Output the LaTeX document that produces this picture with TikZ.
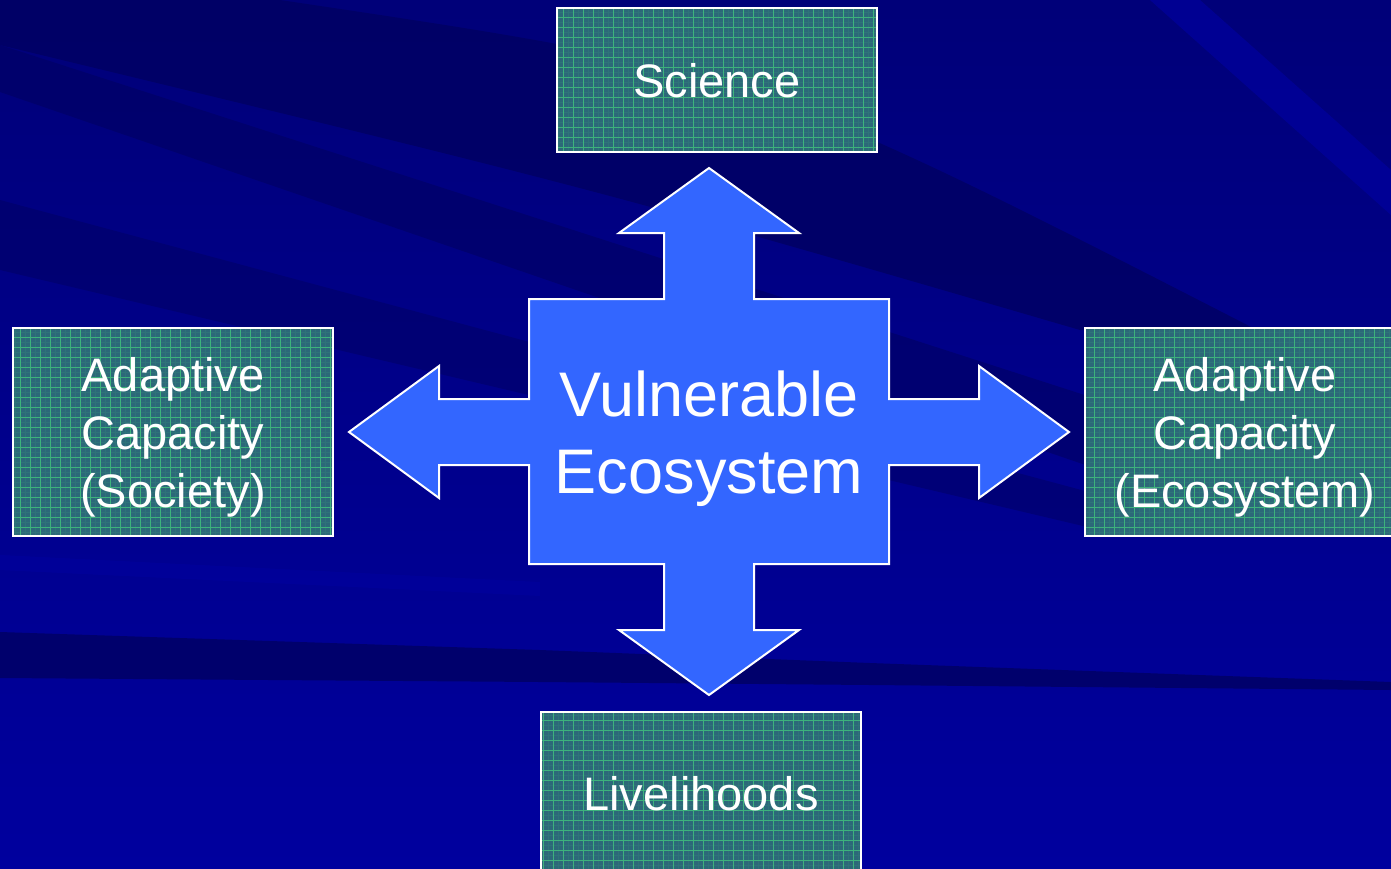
\documentclass[tikz,border=0pt]{standalone}
\usepackage{fontspec}
\setmainfont{Liberation Sans}

\definecolor{bgblue}{HTML}{00008E}
\definecolor{bgdeep}{HTML}{000062}
\definecolor{bglight}{HTML}{00009E}
\definecolor{crossblue}{HTML}{3366FF}
\definecolor{panelteal}{HTML}{2C6879}
\definecolor{panelgrid}{HTML}{3DB27C}

\tikzset{
  panel/.style={draw=white, line width=2pt, fill=panelteal, text=white,
    minimum width=320pt, align=center, inner sep=0pt, text depth=0pt,
    font=\fontsize{47}{58}\selectfont,
    path picture={
      \draw[panelgrid, line width=0.4pt, opacity=0.15]
        (path picture bounding box.south west) grid[step=5pt]
        (path picture bounding box.north east);
      \draw[panelgrid, line width=0.9pt]
        (path picture bounding box.south west) grid[step=10pt]
        (path picture bounding box.north east);}},
  streak/.style={fill=bgdeep, opacity=0.8},
}

\begin{document}
\begin{tikzpicture}[x=1pt, y=-1pt]
        \useasboundingbox (0,0) rectangle (1391,868);
        \clip (0,0) rectangle (1391,868);

        %% background
        \shade[top color=bgblue!85!black, bottom color=bglight] (0,0) rectangle (1391,868);
        \fill[streak] (0,0) -- (280,0) .. controls (750,70) .. (1257,330)
             -- (1080,330) .. controls (600,190) .. (0,45) -- cycle;
        \fill[streak, opacity=0.6] (0,45) -- (1100,400) -- (1100,470) -- (0,92) -- cycle;
        \fill[streak, opacity=0.5] (0,200) -- (1100,495) -- (1100,530) -- (0,270) -- cycle;
        \fill[streak] (0,632) -- (540,650) -- (870,663) -- (1391,682)
             -- (1391,690) -- (870,685) -- (540,682) -- (0,678) -- cycle;
        \fill[bglight, opacity=0.7] (1150,0) -- (1200,0) -- (1391,170) -- (1391,215) -- cycle;
        \fill[bglight, opacity=0.6] (0,555) -- (540,582) -- (540,596) -- (0,570) -- cycle;

        %% cross of arrows
        \draw[white, line width=2pt, fill=crossblue, line join=miter]
             (709,168) -- (799,233) -- (754,233) -- (754,299) -- (889,299)
          -- (889,399) -- (979,399) -- (979,366) -- (1069,432) -- (979,498)
          -- (979,465) -- (889,465) -- (889,564) -- (754,564) -- (754,630)
          -- (799,630) -- (709,695) -- (619,630) -- (664,630) -- (664,564)
          -- (529,564) -- (529,465) -- (439,465) -- (439,498) -- (349,432)
          -- (439,366) -- (439,399) -- (529,399) -- (529,299) -- (664,299)
          -- (664,233) -- (619,233) -- cycle;

        \node[text=white, align=center, text depth=0pt, font=\fontsize{63}{77}\selectfont]
             (core) at (709,432) {Vulnerable\\Ecosystem};

        %% boxes
        \node[panel, minimum height=144pt] (science) at (717,80) {Science};
        \node[panel, minimum height=208pt] (society) at (173,432)
             {Adaptive\\Capacity\\(Society)};
        \node[panel, minimum height=208pt] (ecosys) at (1245,432)
             {Adaptive\\Capacity\\(Ecosystem)};
        \node[panel, minimum height=162pt] (liveli) at (701,793) {Livelihoods};

\end{tikzpicture}
\end{document}
